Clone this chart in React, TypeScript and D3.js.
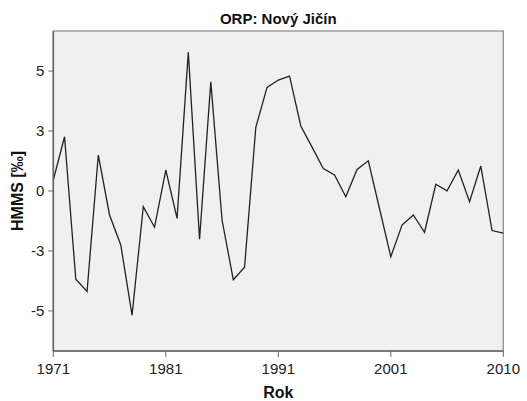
import React from "react";
import * as d3 from "d3";

const title = "ORP: Nový Jičín";
const xTitle = "Rok";
const yTitle = "HMMS [‰]";

// HMMS values, one per observation (41 points along the x axis)
const values = [
  0.46, 2.26, -3.68, -4.19, 1.5, -1.0, -2.25, -5.18, -0.65, -1.51,
  0.875, -1.14, 5.78, -2.01, 4.55, -1.21, -3.7, -3.18, 2.65, 4.32,
  4.625, 4.79, 2.71, 1.83, 0.94, 0.67, -0.24, 0.9, 1.26, -0.74,
  -2.74, -1.42, -1.0, -1.72, 0.28, 0.01, 0.875, -0.45, 1.04, -1.65,
  -1.76,
];

const xTickPositions = [0, 10, 20, 30, 40];
const xTickLabels = ["1971", "1981", "1991", "2001", "2010"];
const yTickValues = [-5, -2.5, 0, 2.5, 5];
const yTickLabels = ["-5", "-3", "0", "3", "5"];

const W = 527;
const H = 401;
const left = 53.3;
const right = 503.3;
const top = 31;
const bottom = 351;
const font = "'Liberation Sans', Arial, sans-serif";

export default function App() {
  const x = d3.scaleLinear().domain([0, values.length - 1]).range([left, right]);
  const y = d3.scaleLinear().domain([-6.67, 6.67]).range([bottom, top]);
  const line = d3
    .line<number>()
    .x((_, i) => x(i))
    .y((d) => y(d));

  return (
    <svg
      width={W}
      height={H}
      style={{ position: "absolute", left: 0, top: 0, background: "#fff" }}
      fontFamily={font}
    >
      <rect x={left} y={top} width={right - left} height={bottom - top} fill="#f0f0f0" stroke="#8a8a8a" strokeWidth={1.2} />
      <path d={line(values) || ""} fill="none" stroke="#222" strokeWidth={1.3} strokeLinejoin="miter" />
      {/* axes */}
      <line x1={left} x2={left} y1={top} y2={bottom} stroke="#666" strokeWidth={1.6} />
      <line x1={left} x2={right} y1={bottom} y2={bottom} stroke="#666" strokeWidth={1.6} />
      {yTickValues.map((v, i) => (
        <g key={"y" + i}>
          <line x1={left - 5} x2={left} y1={y(v)} y2={y(v)} stroke="#666" strokeWidth={1} />
          <text x={left - 9} y={y(v)} dy="0.36em" textAnchor="end" fontSize={15} fill="#222">
            {yTickLabels[i]}
          </text>
        </g>
      ))}
      {xTickPositions.map((p, i) => (
        <g key={"x" + i}>
          <line x1={x(p)} x2={x(p)} y1={bottom} y2={bottom + 6} stroke="#666" strokeWidth={1} />
          <text x={x(p)} y={374} textAnchor="middle" fontSize={15} fill="#222">
            {xTickLabels[i]}
          </text>
        </g>
      ))}
      <text x={(left + right) / 2} y={24} textAnchor="middle" fontSize={15} fontWeight="bold" fill="#111">
        {title}
      </text>
      <text x={(left + right) / 2} y={398} textAnchor="middle" fontSize={16} fontWeight="bold" fill="#111">
        {xTitle}
      </text>
      <text
        transform={`translate(23,${(top + bottom) / 2}) rotate(-90)`}
        textAnchor="middle"
        fontSize={16}
        fontWeight="bold"
        fill="#111"
      >
        {yTitle}
      </text>
    </svg>
  );
}
